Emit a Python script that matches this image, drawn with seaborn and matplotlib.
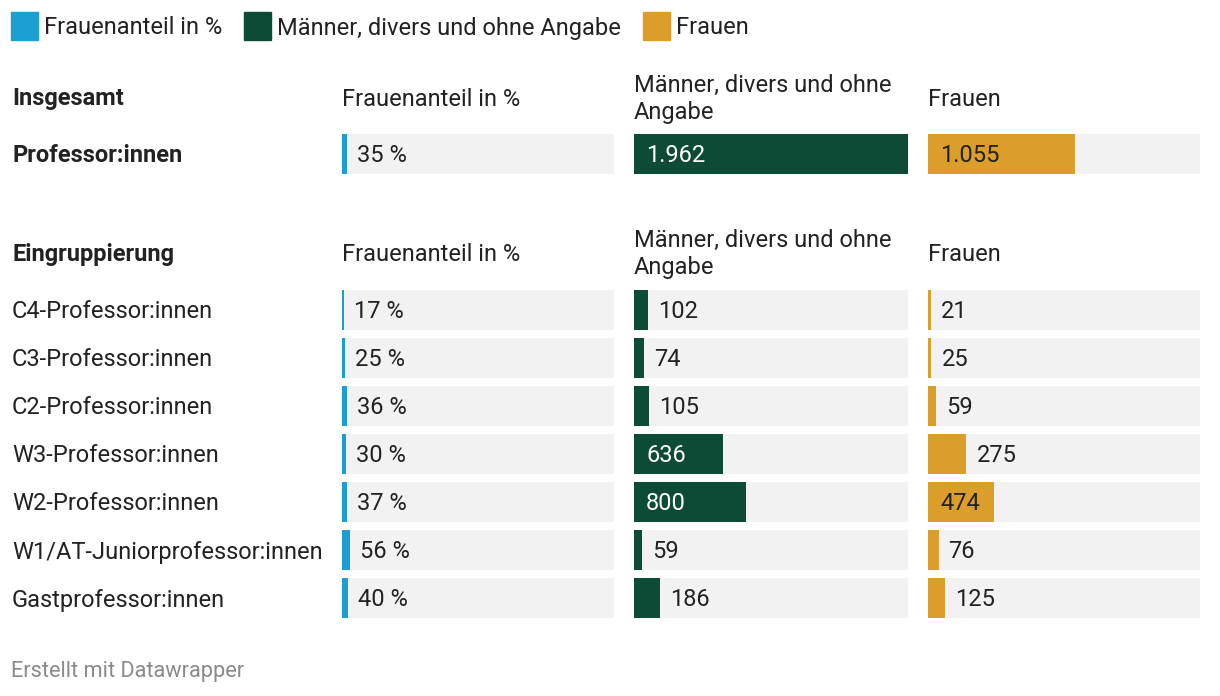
"""Datawrapper-style split bar table: Professor:innen nach Geschlecht."""

import matplotlib

matplotlib.use("Agg")

import matplotlib.pyplot as plt
import numpy as np
import seaborn as sns

# --- data -------------------------------------------------------------------
total_label = ["Professor:innen"]
total_share = [35]
total_men = [1962]
total_women = [1055]

groups = [
    "C4-Professor:innen",
    "C3-Professor:innen",
    "C2-Professor:innen",
    "W3-Professor:innen",
    "W2-Professor:innen",
    "W1/AT-Juniorprofessor:innen",
    "Gastprofessor:innen",
]
share = [17, 25, 36, 30, 37, 56, 40]
men = [102, 74, 105, 636, 800, 59, 186]
women = [21, 25, 59, 275, 474, 76, 125]

series_names = ["Frauenanteil in %", "Männer, divers und ohne Angabe", "Frauen"]
header_names = ["Frauenanteil in %", "Männer, divers und ohne\nAngabe", "Frauen"]
colors = ["#1a9fd0", "#0d4b37", "#dc9e2a"]

# --- style ------------------------------------------------------------------
W, H = 1220, 696
sns.set_theme(style="white")
plt.rcParams["font.family"] = ["Roboto", "DejaVu Sans"]
TXT = "#222222"
BG = "#f2f2f2"
FS = 17
DY = 2  # text sits a little lower than matplotlib's bbox centre

fig = plt.figure(figsize=(W / 100, H / 100), dpi=100)


def fx(px):
    return px / W


def fy(py):
    return 1 - py / H


# column geometry in pixels (left edge, width)
columns = [(342, 272), (634, 274), (928, 272)]
scale_max = max(total_men)  # shared scale across all columns
full_px = 274


def fmt(v, pct=False):
    s = f"{v:,}".replace(",", ".")
    return f"{s} %" if pct else s


def draw_block(labels, values_by_col, top_px, row_px=48):
    n = len(labels)
    for ci, ((left, width), vals) in enumerate(zip(columns, values_by_col)):
        ax = fig.add_axes([fx(left), fy(top_px + n * row_px), fx(width), n * row_px / H])
        xmax = scale_max * width / full_px
        ax.barh(np.arange(n), [xmax] * n, height=40 / row_px, color=BG, linewidth=0, zorder=0)
        sns.barplot(x=vals, y=labels, orient="h", color=colors[ci], width=40 / row_px,
                    saturation=1, linewidth=0, edgecolor="none", ax=ax, zorder=2)
        ax.set_xlim(0, xmax)
        ax.set_ylim(n - 0.5, -0.5)
        ax.axis("off")
        px_per = full_px / scale_max
        for i, v in enumerate(vals):
            pct = ci == 0
            inside = (not pct) and v * px_per >= 55
            if inside:
                tc = "white" if ci == 1 else TXT
                ax.annotate(fmt(v), (0, i), xytext=(12, -DY), textcoords="offset pixels",
                            va="center", ha="left", fontsize=FS, color=tc, zorder=3)
            else:
                ax.annotate(fmt(v, pct), (v, i), xytext=(10, -DY), textcoords="offset pixels",
                            va="center", ha="left", fontsize=FS, color=TXT, zorder=3)
    for i, lab in enumerate(labels):
        fig.text(fx(12), fy(top_px + row_px * i + row_px / 2 + DY), lab, fontsize=FS,
                 color=TXT, va="center", ha="left",
                 fontweight="bold" if labels is total_label else "normal")


def draw_header(title, center_px):
    fig.text(fx(12), fy(center_px + DY), title, fontsize=FS, fontweight="bold",
             color=TXT, va="center", ha="left")
    for (left, _), name in zip(columns, header_names):
        fig.text(fx(left), fy(center_px + DY), name, fontsize=FS, color=TXT,
                 va="center", ha="left", linespacing=1.25)


# legend
lx = 11
for name, c in zip(series_names, colors):
    fig.patches.append(plt.Rectangle((fx(lx), fy(40)), fx(27), 28 / H, color=c,
                                     transform=fig.transFigure, figure=fig))
    t = fig.text(fx(lx + 33), fy(26 + DY), name, fontsize=FS, color=TXT,
                 va="center", ha="left")
    fig.canvas.draw()
    bb = t.get_window_extent()
    lx = bb.x1 + 22

draw_header("Insgesamt", 97)
draw_block(total_label, [total_share, total_men, total_women], 130)

draw_header("Eingruppierung", 252)
draw_block(groups, [share, men, women], 286)

fig.text(fx(11), fy(670 + DY), "Erstellt mit Datawrapper", fontsize=15.7, color="#8a8a8a",
         va="center", ha="left")

fig.savefig("out.png", dpi=100)
plt.close(fig)
